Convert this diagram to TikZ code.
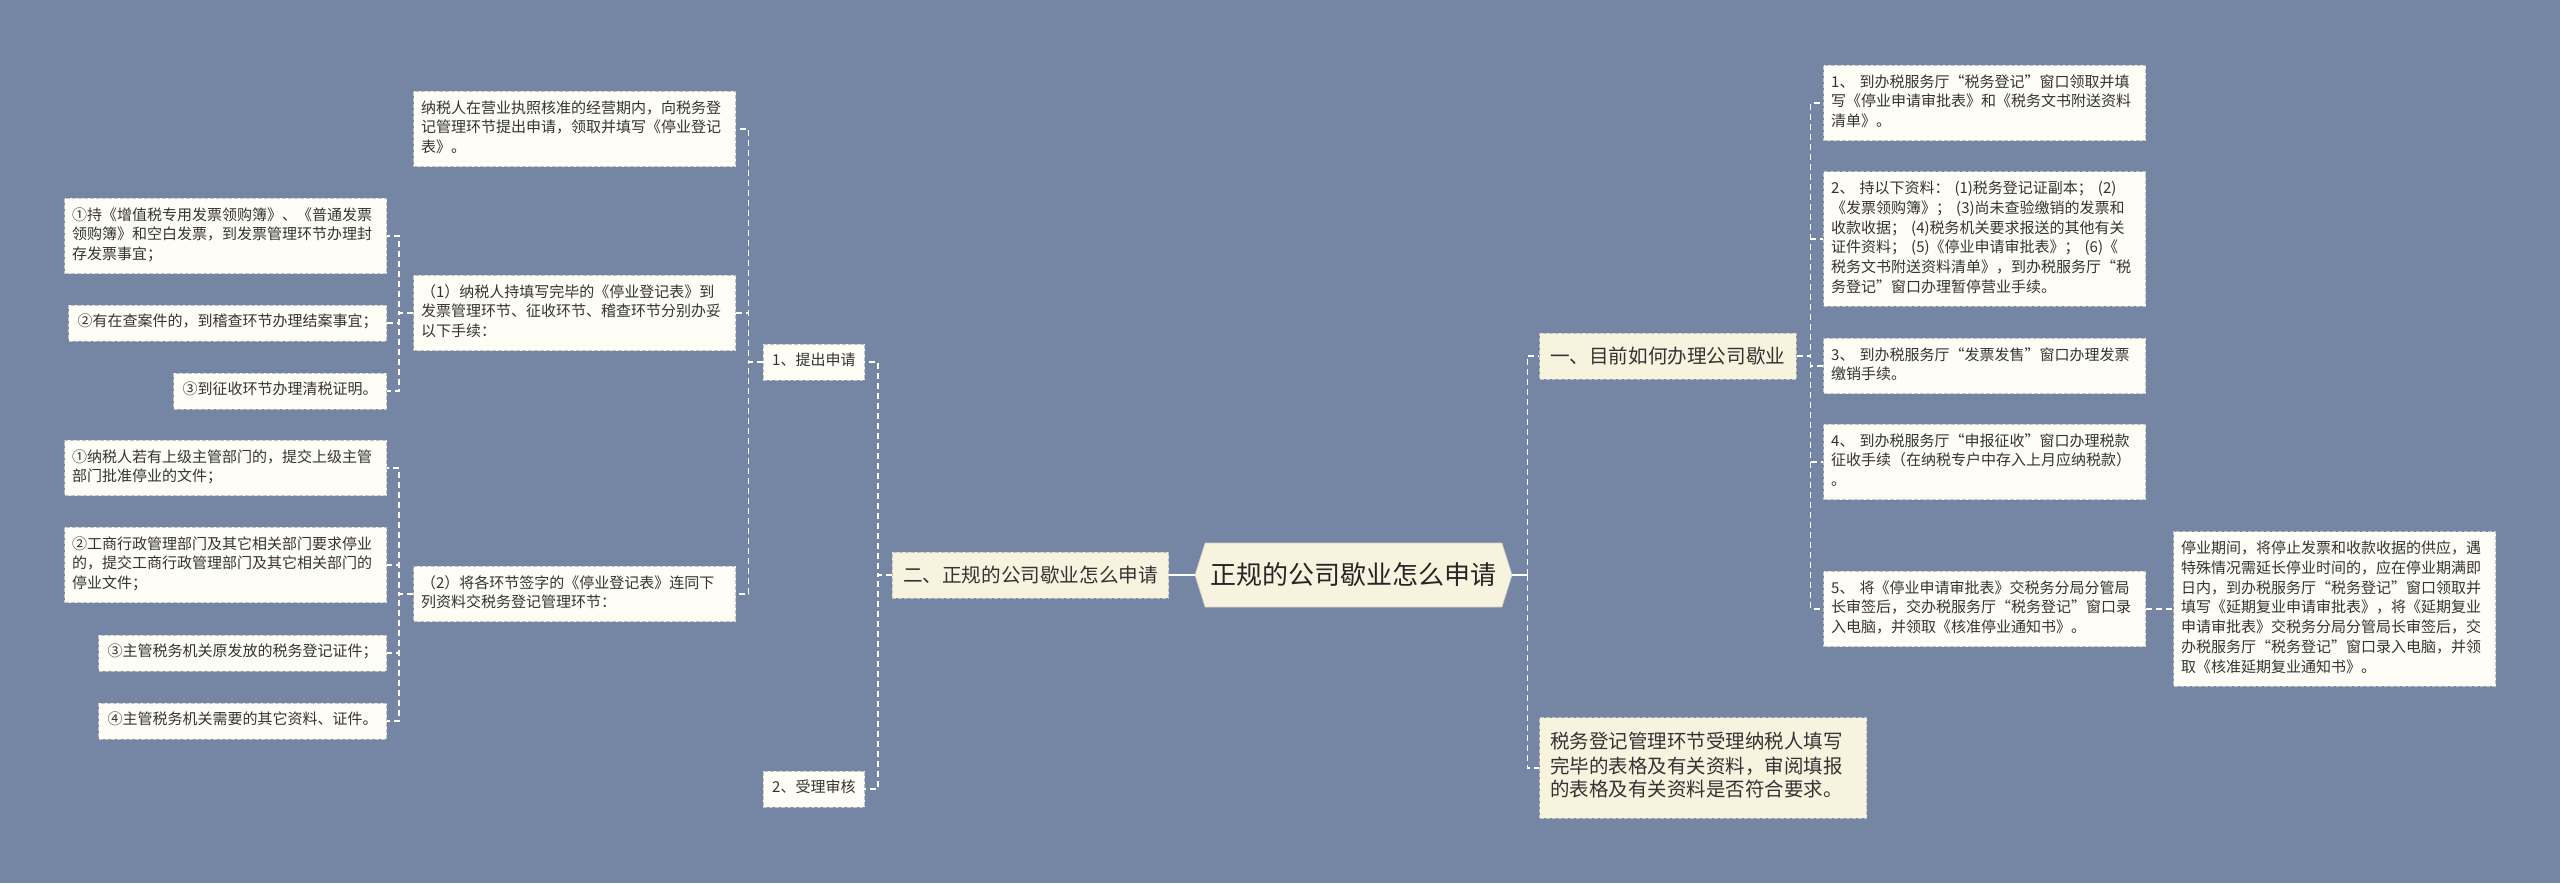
\documentclass[tikz,border=0pt]{standalone}
\usepackage{fontspec}
\setmainfont{Noto Sans CJK SC}
\usetikzlibrary{shapes.symbols}

\definecolor{bgblue}{HTML}{7585A4}
\definecolor{topfill}{HTML}{F8F3DF}
\definecolor{leaffill}{HTML}{FEFDF6}
\definecolor{boxline}{HTML}{C2C2C2}
\definecolor{inkgray}{HTML}{333333}

\newcommand\leaffont{\fontsize{11.25pt}{14.8pt}\selectfont}
\newcommand\topfont{\fontsize{14.7pt}{19pt}\selectfont}
\newcommand\rootfont{\fontsize{19.5pt}{24pt}\selectfont}
\newcommand\notefont{\fontsize{14.6pt}{17.5pt}\selectfont}

\tikzset{every picture/.style={line width=0.75pt}}
\tikzset{
  leaf/.style={draw=boxline, dash pattern=on 3pt off 1.5pt, fill=leaffill, text=inkgray,
    font=\leaffont, inner xsep=6.75pt, inner ysep=6.1pt,
    execute at begin node=\strut, execute at end node=\strut},
  leafwide/.style={leaf, text width=230pt, align=left, inner xsep=5.75pt},
  topic/.style={draw=boxline, dash pattern=on 3pt off 1.5pt, fill=topfill, text=inkgray,
    font=\topfont, inner xsep=8pt, minimum height=34.5pt},
  notebox/.style={draw=boxline, dash pattern=on 3pt off 1.5pt, fill=topfill, text=inkgray,
    font=\notefont, text width=228.75pt, align=left, inner xsep=8.25pt, inner ysep=10.9pt,
    execute at begin node=\strut, execute at end node=\strut},
  rootnode/.style={signal, signal to=west and east, signal pointer angle=145,
    fill=topfill, draw=topfill!85!black, line width=0.5pt, text=black!85,
    font=\rootfont, minimum width=237.75pt, minimum height=48pt},
  link/.style={white, dash pattern=on 4.5pt off 3pt, line width=1pt},
  trunk/.style={white, line width=1.2pt},
}

\begin{document}
\begin{tikzpicture}[x=0.75pt,y=0.75pt,yscale=-1]
%Background
\fill[bgblue] (0,0) rectangle (2560,883);

%Root
\node[rootnode] (root) at (1353.5,575) {正规的公司歇业怎么申请};

%Left branch
\node[topic, anchor=east] (apply) at (1169,575) {二、正规的公司歇业怎么申请};
\node[leaf, anchor=east] (ask) at (865,362) {1、提出申请};
\node[leaf, anchor=east] (check) at (865,789) {2、受理审核};

\node[leafwide, anchor=east] (aska) at (736,129) {纳税人在营业执照核准的经营期内，向税务登\\记管理环节提出申请，领取并填写《停业登记\\表》。};
\node[leafwide, anchor=east] (askb) at (736,313) {（1）纳税人持填写完毕的《停业登记表》到\\发票管理环节、征收环节、稽查环节分别办妥\\以下手续：};
\node[leafwide, anchor=east] (askc) at (736,594) {（2）将各环节签字的《停业登记表》连同下\\列资料交税务登记管理环节：};

\node[leafwide, anchor=east] (seala) at (387,236) {①持《增值税专用发票领购簿》、《普通发票\\领购簿》和空白发票，到发票管理环节办理封\\存发票事宜；};
\node[leaf, anchor=east] (sealb) at (387,323) {②有在查案件的，到稽查环节办理结案事宜；};
\node[leaf, anchor=east] (sealc) at (387,391) {③到征收环节办理清税证明。};

\node[leafwide, anchor=east] (filea) at (387,468) {①纳税人若有上级主管部门的，提交上级主管\\部门批准停业的文件；};
\node[leafwide, anchor=east] (fileb) at (387,565) {②工商行政管理部门及其它相关部门要求停业\\的，提交工商行政管理部门及其它相关部门的\\停业文件；};
\node[leaf, anchor=east] (filec) at (387,653) {③主管税务机关原发放的税务登记证件；};
\node[leaf, anchor=east] (filed) at (387,721) {④主管税务机关需要的其它资料、证件。};

%Right branch
\node[topic, anchor=west] (how) at (1539,356) {一、目前如何办理公司歇业};
\node[notebox, anchor=west] (review) at (1539,768) {税务登记管理环节受理纳税人填写\\完毕的表格及有关资料，审阅填报\\的表格及有关资料是否符合要求。};

\node[leafwide, anchor=west] (hall1) at (1823,103) {1、 到办税服务厅“税务登记”窗口领取并填\\写《停业申请审批表》和《税务文书附送资料\\清单》。};
\node[leafwide, anchor=west] (hall2) at (1823,239) {2、 持以下资料： (1)税务登记证副本； (2)\\《发票领购簿》； (3)尚未查验缴销的发票和\\收款收据； (4)税务机关要求报送的其他有关\\证件资料； (5)《停业申请审批表》； (6)《\\税务文书附送资料清单》，到办税服务厅“税\\务登记”窗口办理暂停营业手续。};
\node[leafwide, anchor=west] (hall3) at (1823,366) {3、 到办税服务厅“发票发售”窗口办理发票\\缴销手续。};
\node[leafwide, anchor=west] (hall4) at (1823,462) {4、 到办税服务厅“申报征收”窗口办理税款\\征收手续（在纳税专户中存入上月应纳税款）\\。};
\node[leafwide, anchor=west] (hall5) at (1823,609) {5、 将《停业申请审批表》交税务分局分管局\\长审签后，交办税服务厅“税务登记”窗口录\\入电脑，并领取《核准停业通知书》。};
\node[leafwide, anchor=west] (delay) at (2173,609) {停业期间，将停止发票和收款收据的供应，遇\\特殊情况需延长停业时间的，应在停业期满即\\日内，到办税服务厅“税务登记”窗口领取并\\填写《延期复业申请审批表》，将《延期复业\\申请审批表》交税务分局分管局长审签后，交\\办税服务厅“税务登记”窗口录入电脑，并领\\取《核准延期复业通知书》。};

%Connectors
\draw[trunk] (root.west) -- (apply.east);
\draw[trunk] (root.east) -- ++(15,0) coordinate (rootjoint);
\draw[link] (rootjoint) |- (how.west);
\draw[link] (rootjoint) |- (review.west);

\draw[link] (apply.west) -- ++(-14,0) |- (ask.east);
\draw[link] (apply.west) -- ++(-14,0) |- (check.east);

\draw[link] (ask.west) -- ++(-14,0) |- (aska.east);
\draw[link] (ask.west) -- ++(-14,0) |- (askb.east);
\draw[link] (ask.west) -- ++(-14,0) |- (askc.east);

\draw[link] (askb.west) -- ++(-14,0) |- (seala.east);
\draw[link] (askb.west) -- ++(-14,0) |- (sealb.east);
\draw[link] (askb.west) -- ++(-14,0) |- (sealc.east);

\draw[link] (askc.west) -- ++(-14,0) |- (filea.east);
\draw[link] (askc.west) -- ++(-14,0) |- (fileb.east);
\draw[link] (askc.west) -- ++(-14,0) |- (filec.east);
\draw[link] (askc.west) -- ++(-14,0) |- (filed.east);

\draw[link] (how.east) -- ++(14,0) |- (hall1.west);
\draw[link] (how.east) -- ++(14,0) |- (hall2.west);
\draw[link] (how.east) -- ++(14,0) |- (hall3.west);
\draw[link] (how.east) -- ++(14,0) |- (hall4.west);
\draw[link] (how.east) -- ++(14,0) |- (hall5.west);

\draw[link] (hall5.east) -- (delay.west);
\end{tikzpicture}
\end{document}
